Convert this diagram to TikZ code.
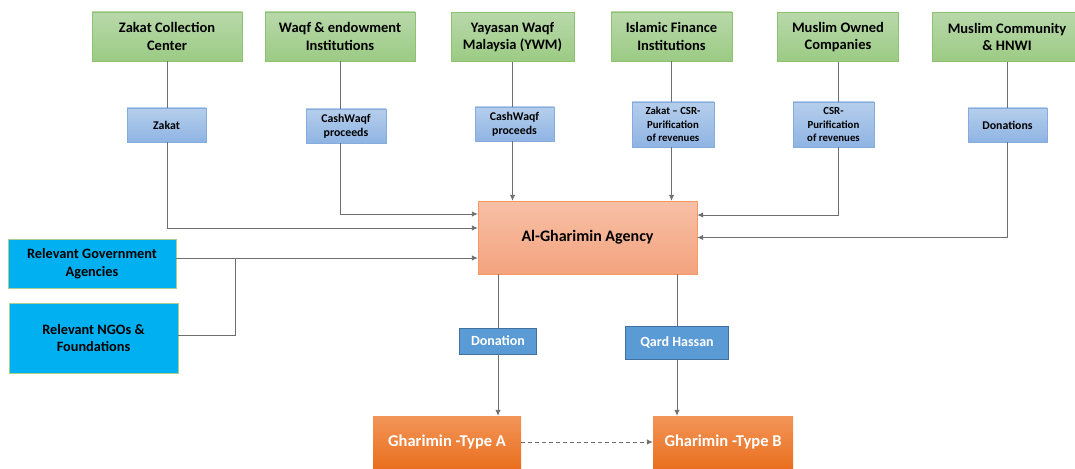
\documentclass[tikz,border=0pt]{standalone}
\usepackage{fontspec}
\setmainfont{Carlito}
\usetikzlibrary{arrows.meta}
\definecolor{srcT}{HTML}{B8D8AA}
\definecolor{srcB}{HTML}{9CCB84}
\definecolor{srcD}{HTML}{8CC270}
\definecolor{fundT}{HTML}{B5CEEC}
\definecolor{fundB}{HTML}{8FB4E3}
\definecolor{fundD}{HTML}{86ACDD}
\definecolor{agT}{HTML}{F7C0A6}
\definecolor{agB}{HTML}{F4A37E}
\definecolor{agD}{HTML}{F79A62}
\definecolor{partner}{HTML}{00B0F0}
\definecolor{partnerD}{HTML}{A9D18E}
\definecolor{chan}{HTML}{5B9BD5}
\definecolor{chanD}{HTML}{41719C}
\definecolor{gharT}{HTML}{F29558}
\definecolor{gharB}{HTML}{EA6F1F}
\definecolor{lnk}{HTML}{6E6E6E}
\begin{document}
\begin{tikzpicture}[x=1pt,y=-1pt,>={Latex[length=6pt,width=5.5pt]},
  box/.style={inner sep=0pt,align=center},
  src/.style={box,draw=srcD,top color=srcT,bottom color=srcB,minimum height=49pt,
    font=\fontsize{14.5}{17.7}\selectfont\bfseries},
  fund/.style={box,draw=fundD,top color=fundT,bottom color=fundB,minimum height=34pt,
    font=\fontsize{11.8}{14}\selectfont\bfseries},
  fundsm/.style={fund,minimum height=45pt,font=\fontsize{10.8}{13.3}\selectfont\bfseries},
  partner/.style={box,draw=partnerD,fill=partner,font=\fontsize{14.3}{17.7}\selectfont\bfseries},
  chan/.style={box,draw=chanD,fill=chan,text=white,font=\fontsize{14}{17}\selectfont\bfseries},
  ghar/.style={box,top color=gharT,bottom color=gharB,text=white,minimum height=52pt,
    font=\fontsize{16.5}{20}\selectfont\bfseries},
  link/.style={draw=lnk,line width=.9pt}]
\useasboundingbox (0,0) rectangle (1075,468);
\node[src,minimum width=150pt] (zcc) at (167,36.5) {Zakat Collection\\Center};
\node[src,minimum width=150pt] (waqf) at (340,36.5) {Waqf \& endowment\\Institutions};
\node[src,minimum width=123pt] (ywm) at (512.5,37) {Yayasan Waqf\\Malaysia (YWM)};
\node[src,minimum width=121pt] (ifi) at (671.5,36.5) {Islamic Finance\\Institutions};
\node[src,minimum width=121pt] (moc) at (838,37) {Muslim Owned\\Companies};
\node[src,minimum width=150pt] (mch) at (1007,37) {Muslim Community\\\& HNWI};
\node[fund,minimum width=79pt] (fzak) at (166.5,125) {Zakat};
\node[fund,minimum width=80pt] (fwaqf) at (346,126) {CashWaqf\\proceeds};
\node[fund,minimum width=79pt] (fywm) at (514.5,124) {CashWaqf\\proceeds};
\node[fundsm,minimum width=82pt] (fifi) at (673,124.5) {Zakat -- CSR-\\Purification\\of revenues};
\node[fundsm,minimum width=81pt] (fmoc) at (833.5,124.5) {CSR-\\Purification\\of revenues};
\node[fund,minimum width=79pt] (fmch) at (1007.5,125) {Donations};
\node[box,draw=agD,top color=agT,bottom color=agB,minimum width=219pt,minimum height=73pt,
  font=\fontsize{16}{19}\selectfont\bfseries] (agency) at (587.5,237.5) {Al-Gharimin Agency};
\node[partner,minimum width=168pt,minimum height=49pt] (gov) at (92,263.5) {Relevant Government\\Agencies};
\node[partner,minimum width=169pt,minimum height=70pt] (ngo) at (93.5,338) {Relevant NGOs \&\\Foundations};
\node[chan,minimum width=77pt,minimum height=26pt] (don) at (498,341) {Donation};
\node[chan,minimum width=103pt,minimum height=33pt] (qard) at (677,342.5) {Qard Hassan};
\node[ghar,minimum width=148pt] (typea) at (447,442) {Gharimin -Type A};
\node[ghar,minimum width=140pt] (typeb) at (723,442) {Gharimin -Type B};
\coordinate (jn) at (235,258);
\foreach \s/\f in {zcc/fzak,waqf/fwaqf,ywm/fywm,ifi/fifi,moc/fmoc,mch/fmch}
  \draw[link] (\s.south) -- (\s.south |- \f.north);
\draw[link,->] (zcc.south |- fzak.south) |- ([yshift=9.5pt]agency.west);
\draw[link,->] (waqf.south |- fwaqf.south) |- ([yshift=23.5pt]agency.west);
\draw[link,->] (ywm.south |- fywm.south) -- (ywm.south |- agency.north);
\draw[link,->] (ifi.south |- fifi.south) -- (ifi.south |- agency.north);
\draw[link,->] (moc.south |- fmoc.south) |- ([yshift=22.5pt]agency.east);
\draw[link,->] (mch.south |- fmch.south) |- (agency.east);
\draw[link,->] (gov.east |- jn) -- (agency.west |- jn);
\draw[link] (ngo.east |- 0,335) -| (jn);
\draw[link] (don.north |- agency.south) -- (don.north);
\draw[link,->] (don.south) -- (don.south |- typea.north);
\draw[link] (qard.north |- agency.south) -- (qard.north);
\draw[link,->] (qard.south) -- (qard.south |- typeb.north);
\draw[link,->,dash pattern=on 4pt off 3pt] (typea.east) -- (typeb.west);
\end{tikzpicture}
\end{document}
